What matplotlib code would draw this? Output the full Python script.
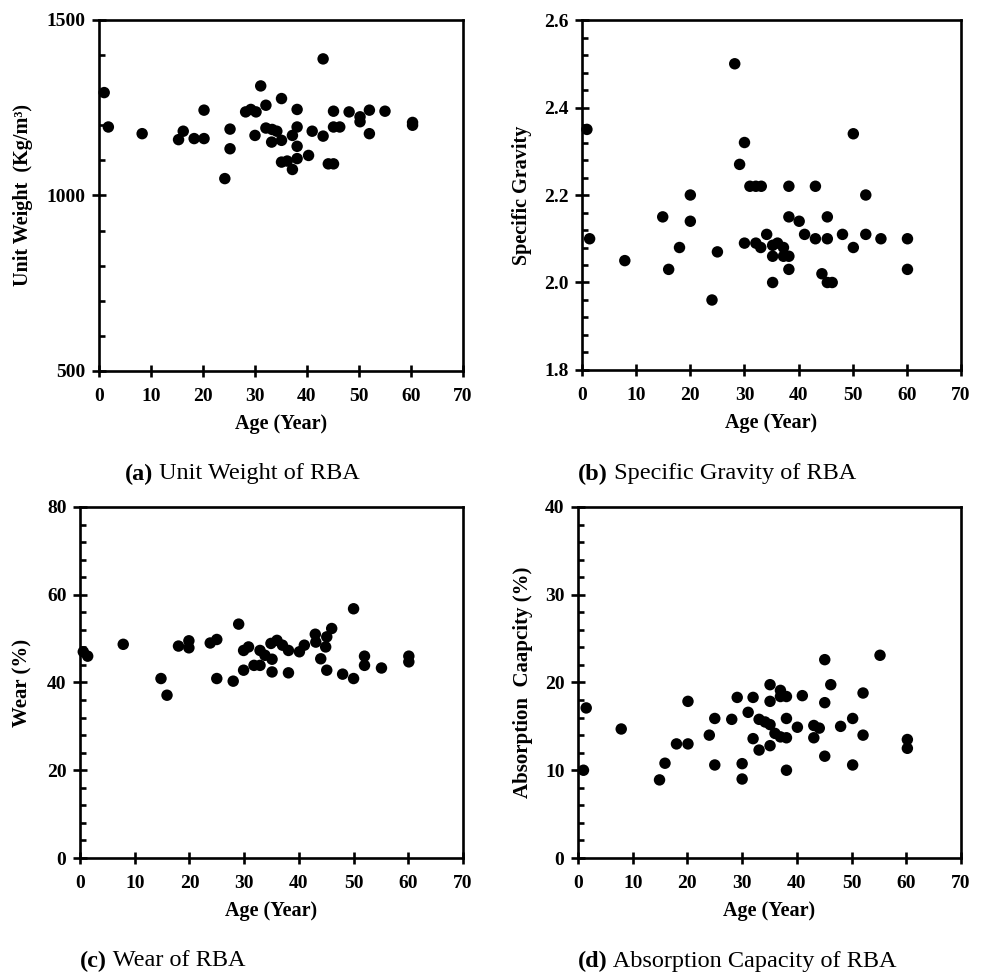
import matplotlib
matplotlib.use("Agg")
import matplotlib.pyplot as plt
from matplotlib.ticker import MultipleLocator, FormatStrFormatter

plt.rcParams['font.family'] = ['Liberation Serif', 'DejaVu Serif']

# === DATA ===
# (a) Unit weight (Kg/m3) vs age
age_uw = [1, 1.8, 8.3, 15.3, 16.2, 18.3, 20.2, 20.2, 25.2, 25.2, 24.2, 28.2, 29.2, 30.2,
          30, 31.1, 32.1, 32.1, 33.2, 33.3, 34.2, 35.1, 35.1, 35.1, 36.2, 37.2, 37.2,
          38.1, 38.1, 38.1, 38.1, 40.3, 41, 43.1, 43.1, 44.1, 45.1, 45.1, 45.1, 46.3,
          48.1, 50.2, 50.2, 52, 52, 55, 60.3, 60.3]
unit_weight = [1293, 1195, 1176, 1159, 1183, 1162, 1162, 1243, 1189, 1133, 1048, 1238, 1245, 1238,
               1171, 1312, 1257, 1192, 1152, 1188, 1183, 1276, 1157, 1095, 1098, 1171, 1074,
               1245, 1195, 1140, 1105, 1114, 1183, 1389, 1169, 1090, 1090, 1240, 1195, 1195,
               1238, 1224, 1210, 1243, 1176, 1240, 1208, 1200]

# (b) Specific gravity vs age
age_sg = [0.9, 1.4, 7.9, 14.9, 16, 18, 20, 20, 24, 25, 28.2, 29.1, 30, 30, 31, 32.1, 33.1,
          32.1, 33, 34.1, 35.2, 35.2, 35.2, 36.1, 37.2, 37.2, 38.2, 38.2, 38.2, 38.2, 40.1,
          41.1, 43.1, 43.1, 44.3, 45.3, 45.3, 45.3, 46.2, 48.1, 50.1, 50.1, 52.4, 52.4,
          55.2, 60.1, 60.1]
spec_grav = [2.35, 2.10, 2.05, 2.15, 2.03, 2.08, 2.20, 2.14, 1.96, 2.07, 2.50, 2.27, 2.32, 2.09,
             2.22, 2.22, 2.22, 2.09, 2.08, 2.11, 2.085, 2.06, 2.00, 2.09, 2.08, 2.06, 2.22,
             2.15, 2.06, 2.03, 2.14, 2.11, 2.22, 2.10, 2.02, 2.15, 2.10, 2.00, 2.00, 2.11,
             2.34, 2.08, 2.20, 2.11, 2.10, 2.10, 2.03]

# (c) Wear (%) vs age
age_wear = [0.6, 1.4, 7.9, 14.8, 15.9, 18, 19.9, 19.9, 23.8, 25, 25, 28, 29, 29.9, 29.9,
            30.8, 31.8, 32.9, 32.9, 33.8, 34.9, 35.1, 35.1, 36, 37, 38.1, 38.1, 40.1, 41,
            43, 43.1, 44, 44.9, 45.1, 45.1, 46, 48, 50, 50, 52, 52, 55.1, 60.1, 60.1]
wear = [47.0, 46.0, 48.7, 40.9, 37.1, 48.3, 49.5, 47.9, 49.0, 49.8, 40.9, 40.3, 53.3, 47.3, 42.8,
        48.1, 43.9, 43.9, 47.3, 46.2, 48.9, 45.3, 42.4, 49.6, 48.5, 47.3, 42.2, 47.0, 48.5,
        51.0, 49.2, 45.4, 48.1, 50.4, 42.8, 52.3, 41.9, 56.8, 40.9, 46.0, 43.9, 43.3, 46.0, 44.7]

# (d) Absorption capacity (%) vs age
age_abs = [1, 1.5, 7.9, 14.9, 15.9, 18, 20.1, 20.1, 24, 25, 25, 28.1, 29.1, 30, 30, 31.1,
           32, 32, 33.1, 33.1, 34.2, 35.1, 35.1, 35.1, 35.1, 36, 37, 37, 37, 38.1, 38.1,
           38.1, 38.1, 40.1, 41, 43.1, 43.1, 44.1, 45.1, 45.1, 45.1, 46.2, 48, 50.2, 50.2,
           52.1, 52.1, 55.2, 60.2, 60.2]
absorption = [10.0, 17.1, 14.7, 8.9, 10.8, 13.0, 13.0, 17.85, 14.0, 15.9, 10.6, 15.8, 18.3, 10.75,
              9.0, 16.6, 18.3, 13.6, 15.8, 12.3, 15.5, 19.75, 17.85, 15.2, 12.8, 14.2, 19.1,
              18.4, 13.8, 18.4, 15.9, 13.7, 10.0, 14.9, 18.5, 15.1, 13.7, 14.8, 22.6, 17.7,
              11.6, 19.75, 15.0, 15.9, 10.6, 18.8, 14.0, 23.1, 13.5, 12.5]

panels = [
    # rect (fig fraction), x, y, ylim, major, minor, ylabel, ylabel size, ylabel x, caption pos, caption
    ([0.1007, 0.6203, 0.3703, 0.3593], age_uw, unit_weight, (500, 1500), 500, 100,
     'Unit Weight  (Kg/m³)', 14.5, -0.181, (125, 474), ('(a)', ' Unit Weight of RBA')),
    ([0.5921, 0.6213, 0.3856, 0.3582], age_sg, spec_grav, (1.8, 2.6), 0.2, 0.04,
     'Specific Gravity', 14.5, -0.132, (578, 474), ('(b)', ' Specific Gravity of RBA')),
    ([0.0814, 0.1218, 0.3896, 0.3593], age_wear, wear, (0, 80), 20, 4,
     'Wear (%)', 15, -0.123, (80, 961), ('(c)', ' Wear of RBA')),
    ([0.5880, 0.1218, 0.3896, 0.3593], age_abs, absorption, (0, 40), 10, 2,
     'Absorption  Caapcity (%)', 15, -0.1175, (578, 961), ('(d)', ' Absorption Capacity of RBA')),
]

W, H = 983, 977
fig = plt.figure(figsize=(W / 100, H / 100), dpi=100)

for rect, xs, ys, ylim, major, minor, ylab, ylsize, ylx, cpos, cap in panels:
    ax = fig.add_axes(rect)
    ax.scatter(xs, ys, s=68, color='black', edgecolors='none', zorder=3, clip_on=False)
    ax.set_xlim(0, 70)
    ax.set_ylim(*ylim)
    ax.xaxis.set_major_locator(MultipleLocator(10))
    ax.yaxis.set_major_locator(MultipleLocator(major))
    ax.yaxis.set_minor_locator(MultipleLocator(minor))
    if major < 1:
        ax.yaxis.set_major_formatter(FormatStrFormatter('%.1f'))
    for sp in ax.spines.values():
        sp.set_linewidth(1.9)
    ax.tick_params(axis='x', which='major', direction='inout', length=8, width=1.9,
                   labelsize=14, pad=8.5)
    ax.tick_params(axis='y', which='major', direction='inout', length=9.5, width=1.9,
                   labelsize=14, pad=5)
    ax.tick_params(axis='y', which='minor', direction='in', length=4.5, width=1.9)
    for lab in ax.get_xticklabels() + ax.get_yticklabels():
        lab.set_fontweight('bold')
    ax.set_xlabel('Age (Year)', fontsize=14.5, fontweight='bold')
    ax.xaxis.set_label_coords(0.5, -0.122)
    ax.set_ylabel(ylab, fontsize=ylsize, fontweight='bold')
    ax.yaxis.set_label_coords(ylx, 0.5)

    # caption under the panel: bold tag + regular text
    tx, ty = cpos
    t1 = fig.text(tx / W, 1 - ty / H, cap[0], fontsize=17.5, fontweight='bold',
                  ha='left', va='center')
    fig.canvas.draw()
    bb = t1.get_window_extent()
    fig.text(bb.x1 / W, 1 - ty / H, cap[1], fontsize=17.5, ha='left', va='center')

fig.savefig('out.png', dpi=100)
